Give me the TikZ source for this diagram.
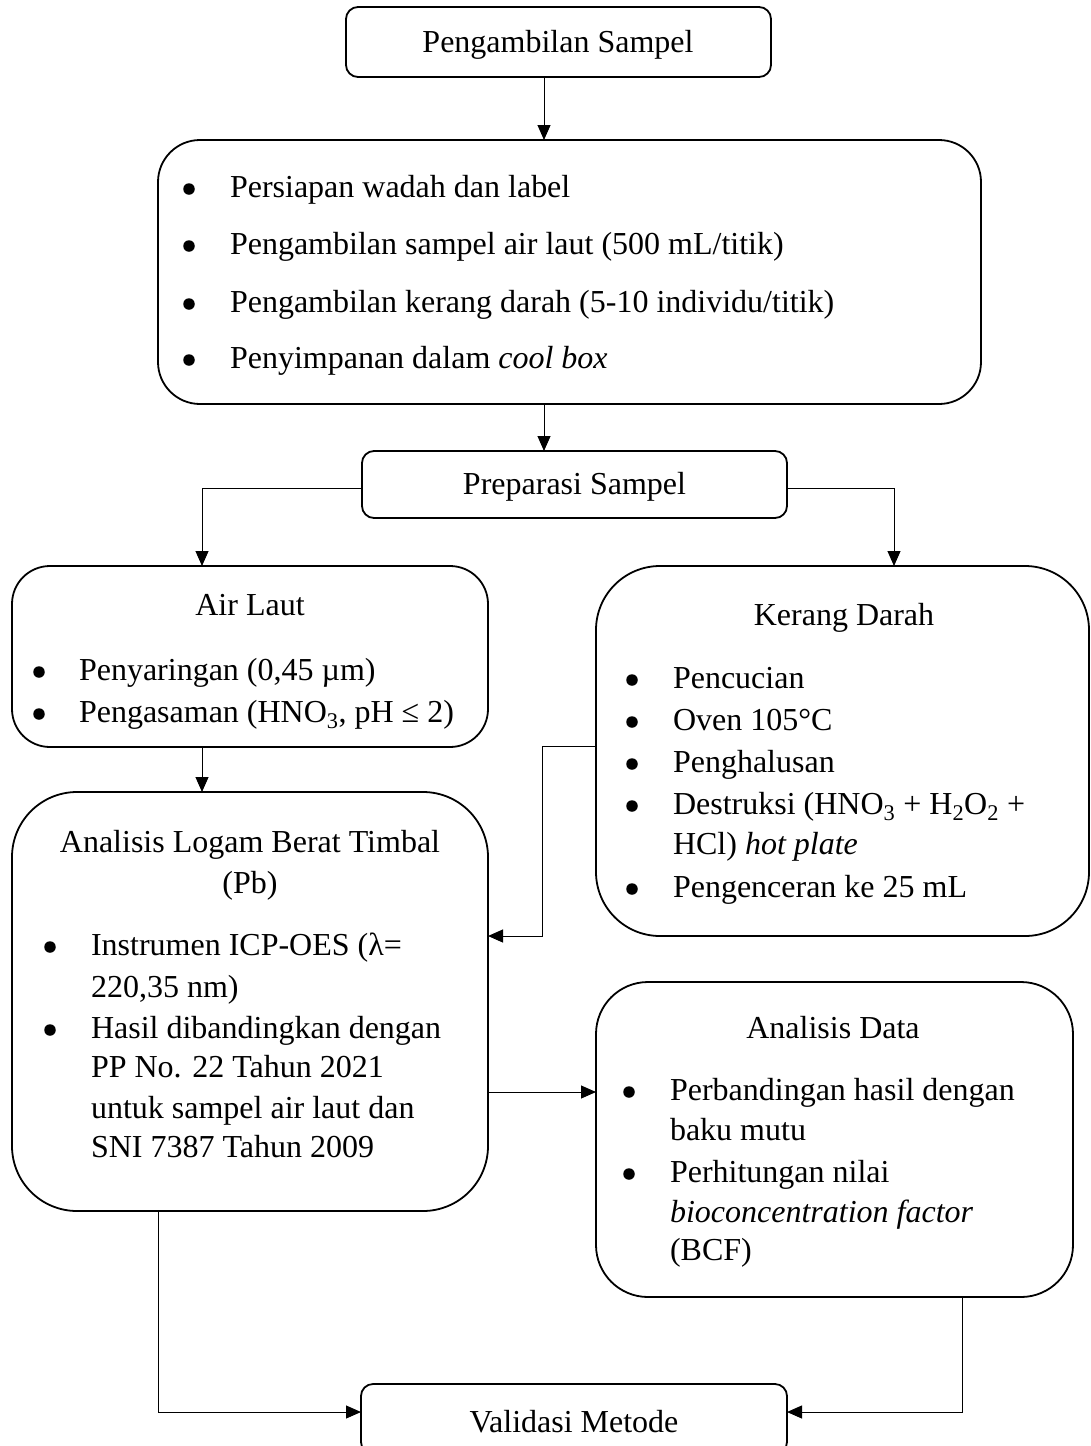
\documentclass[tikz,border=0pt]{standalone}
\usepackage{fontspec}
\setmainfont{Liberation Serif}
\usetikzlibrary{arrows.meta}
\begin{document}
\begin{tikzpicture}[x=1pt,y=-1pt,
  font=\fontsize{32}{38}\selectfont,
  box/.style={draw, line width=1.8pt, inner sep=0pt, outer sep=0pt, rectangle},
  txt/.style={inner sep=0pt, outer sep=0pt, anchor=base west},
  ttl/.style={inner sep=0pt, outer sep=0pt, anchor=base},
  bul/.style={circle, fill=black, inner sep=0pt, outer sep=0pt, minimum size=11.5pt, yshift=8pt},
  conn/.style={line width=1pt},
  arr/.style={conn, -{Triangle[length=15pt,width=13pt]}}]
\fill[white] (0,0) rectangle (1090,1446);
\useasboundingbox (0,0) rectangle (1090,1446);

% boxes
\node[box, minimum width=425pt, minimum height=70pt, rounded corners=12pt] (b1) at (558.5,42) {};
\node[box, minimum width=823pt, minimum height=264pt, rounded corners=42pt] (b2) at (569.5,272) {};
\node[box, minimum width=425pt, minimum height=67pt, rounded corners=12pt] (b3) at (574.5,484.5) {};
\node[box, minimum width=476pt, minimum height=181pt, rounded corners=38pt] (b4) at (250,656.5) {};
\node[box, minimum width=493pt, minimum height=370pt, rounded corners=64pt] (b5) at (842.5,751) {};
\node[box, minimum width=476pt, minimum height=419pt, rounded corners=65pt] (b6) at (250,1001.5) {};
\node[box, minimum width=477pt, minimum height=315pt, rounded corners=52pt] (b7) at (834.5,1139.5) {};
\node[box, minimum width=426pt, minimum height=70pt, rounded corners=12pt] (b8) at (574,1419) {};

% texts box 1
\node[ttl] (t1) at (558,52) {Pengambilan Sampel};
% box 2
\node[bul] (u21) at (189,197) {};
\node[txt] (t21) at (230,197) {Persiapan wadah dan label};
\node[bul] (u22) at (189,254) {};
\node[txt] (t22) at (230,254) {Pengambilan sampel air laut (500 mL/titik)};
\node[bul] (u23) at (189,312) {};
\node[txt] (t23) at (230,312) {Pengambilan kerang darah (5-10 individu/titik)};
\node[bul] (u24) at (189,368) {};
\node[txt] (t24) at (230,368) {Penyimpanan dalam \textit{cool box}};
% box 3
\node[ttl] (t3) at (574.5,494) {Preparasi Sampel};
% box 4
\node[ttl] (t4) at (250,615) {Air Laut};
\node[bul] (u41) at (39,680) {};
\node[txt] (t41) at (79,680) {Penyaringan (0,45 µm)};
\node[bul] (u42) at (39,722) {};
\node[txt] (t42) at (79,722) {Pengasaman (HNO\textsubscript{3}, pH ≤ 2)};
% box 5
\node[ttl] (t5) at (844,625) {Kerang Darah};
\node[bul] (u51) at (632,688) {};
\node[txt] (t51) at (673,688) {Pencucian};
\node[bul] (u52) at (632,730) {};
\node[txt] (t52) at (673,730) {Oven 105°C};
\node[bul] (u53) at (632,772) {};
\node[txt] (t53) at (673,772) {Penghalusan};
\node[bul] (u54) at (632,814) {};
\node[txt] (t54) at (673,814) {Destruksi (HNO\textsubscript{3} + H\textsubscript{2}O\textsubscript{2} +};
\node[txt] (t55) at (673,854) {HCl) \textit{hot plate}};
\node[bul] (u56) at (632,897) {};
\node[txt] (t56) at (673,897) {Pengenceran ke 25 mL};
% box 6
\node[ttl] (t6a) at (250,852) {Analisis Logam Berat Timbal};
\node[ttl] (t6b) at (250,893) {(Pb)};
\node[bul] (u61) at (50,955) {};
\node[txt] (t61) at (91,955) {Instrumen ICP-OES (λ=};
\node[txt] (t62) at (91,997) {220,35 nm)};
\node[bul] (u63) at (50,1038) {};
\node[txt] (t63) at (91,1038) {Hasil dibandingkan dengan};
\node[txt] (t64) at (91,1077) {PP No. 22 Tahun 2021};
\node[txt] (t65) at (91,1118) {untuk sampel air laut dan};
\node[txt] (t66) at (91,1157) {SNI 7387 Tahun 2009};
% box 7
\node[ttl] (t7) at (833,1038) {Analisis Data};
\node[bul] (u71) at (629,1100) {};
\node[txt] (t71) at (670,1100) {Perbandingan hasil dengan};
\node[txt] (t72) at (670,1140) {baku mutu};
\node[bul] (u73) at (629,1182) {};
\node[txt] (t73) at (670,1182) {Perhitungan nilai};
\node[txt] (t74) at (670,1222) {\textit{bioconcentration factor}};
\node[txt] (t75) at (670,1260) {(BCF)};
% box 8
\node[ttl] (t8) at (574,1432) {Validasi Metode};

% connector guides
\coordinate (xa) at (544,0);
\coordinate (xl) at (202,488);
\coordinate (xr) at (894,488);
\coordinate (kk) at (542,746);
\coordinate (ka) at (542,936);
\coordinate (ad) at (0,1092);
\coordinate (vl) at (158,1412);
\coordinate (vr) at (962,1412);

\draw[arr] (b1.south -| xa) -- (b2.north -| xa);
\draw[arr] (b2.south -| xa) -- (b3.north -| xa);
\draw[arr] (b3.west |- xl) -- (xl) -- (b4.north -| xl);
\draw[arr] (b3.east |- xr) -- (xr) -- (b5.north -| xr);
\draw[arr] (b4.south -| xl) -- (b6.north -| xl);
\draw[arr] (b5.west |- kk) -- (kk) -- (ka) -- (b6.east |- ka);
\draw[arr] (b6.east |- ad) -- (b7.west |- ad);
\draw[arr] (b6.south -| vl) -- (vl) -- (b8.west |- vl);
\draw[arr] (b7.south -| vr) -- (vr) -- (b8.east |- vr);
\end{tikzpicture}
\end{document}
